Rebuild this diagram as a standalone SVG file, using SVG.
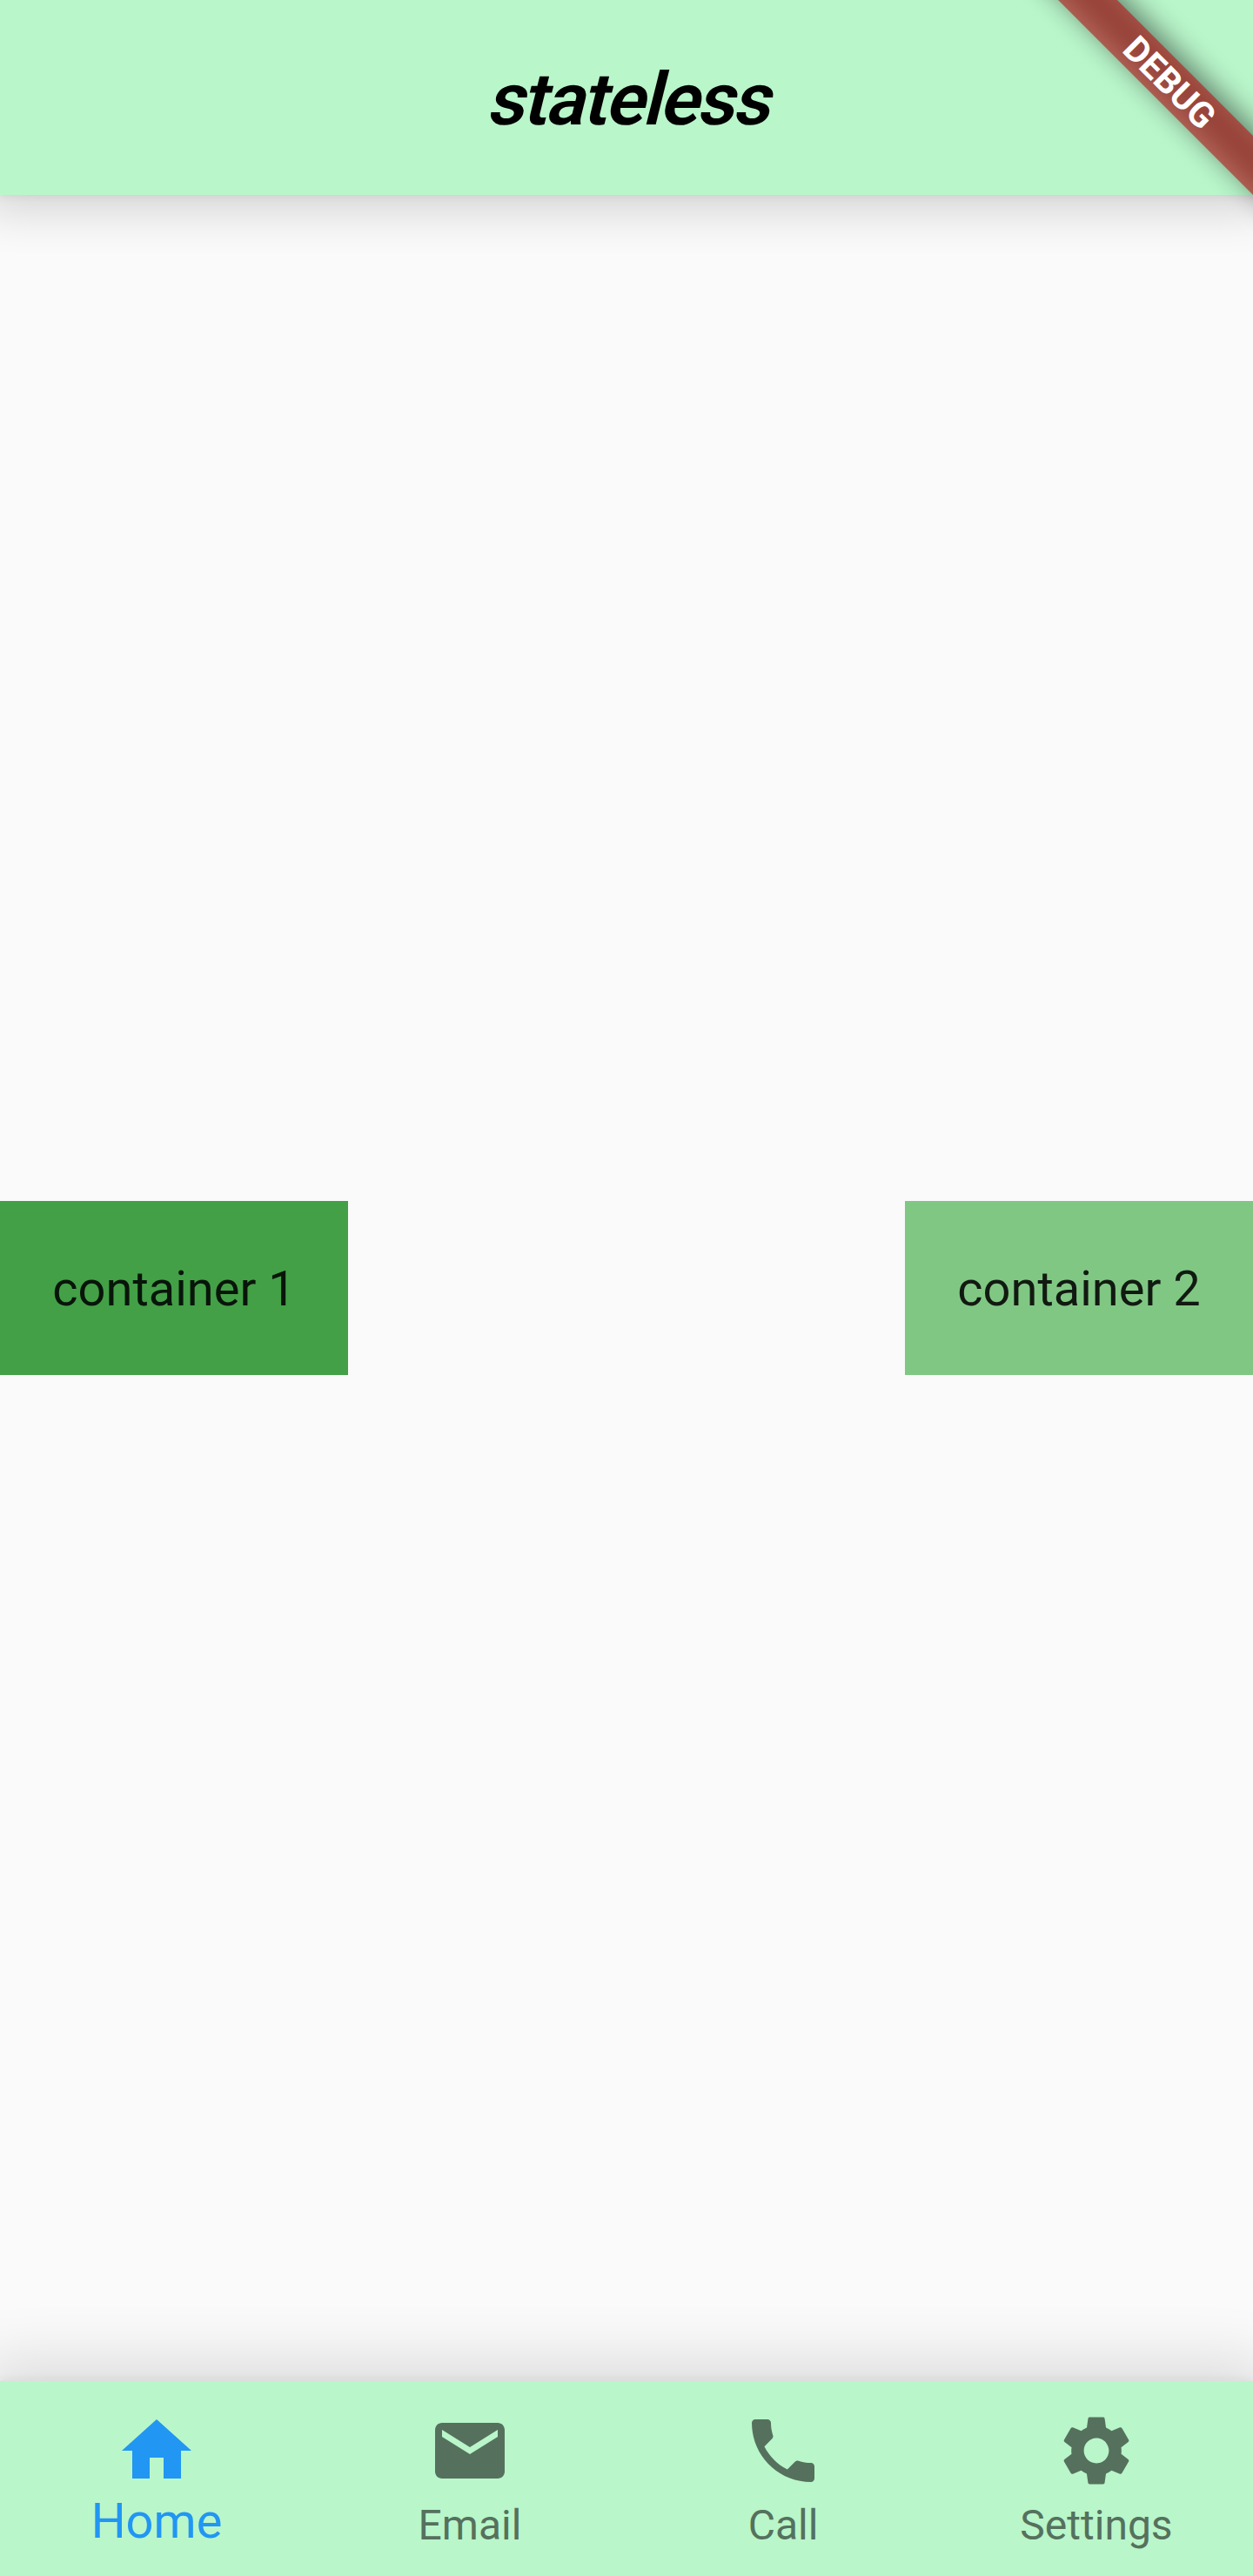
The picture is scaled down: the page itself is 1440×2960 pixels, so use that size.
<svg xmlns="http://www.w3.org/2000/svg" width="1440" height="2960" viewBox="0 0 1440 2960">
<defs>
<style>
text{font-family:Roboto,"Liberation Sans",sans-serif}
.bar{fill:#B9F6CA}
.ctr{font-size:56px;fill:#000;fill-opacity:.87;text-anchor:middle}
.lbl{font-size:48px;fill:#55715D;text-anchor:middle}
.ico{fill:#55715D}
</style>
<filter id="b4" x="-10%" y="-200%" width="120%" height="500%"><feGaussianBlur stdDeviation="4"/></filter>
<filter id="b28" x="-10%" y="-200%" width="120%" height="500%"><feGaussianBlur stdDeviation="28"/></filter>
<filter id="b34" x="-10%" y="-200%" width="120%" height="500%"><feGaussianBlur stdDeviation="34"/></filter>
<filter id="b16" x="-30%" y="-300%" width="160%" height="700%"><feGaussianBlur stdDeviation="16"/></filter>
</defs>
<rect id="background" width="1440" height="2960" fill="#FAFAFA"/>
<g id="appbar-shadow">
<rect y="0" width="1440" height="226" fill="#000" opacity=".05" filter="url(#b4)"/>
<rect x="-20" y="0" width="1480" height="240" fill="#000" opacity=".16" filter="url(#b28)"/>
</g>
<g id="bottomnav-shadow">
<rect y="2733" width="1440" height="227" fill="#000" opacity=".04" filter="url(#b4)"/>
<rect x="-20" y="2710" width="1480" height="250" fill="#000" opacity=".115" filter="url(#b34)"/>
</g>
<g id="appbar">
<rect class="bar" width="1440" height="224"/>
<text transform="translate(720 143) skewX(-14)" font-size="84" font-weight="600" letter-spacing="-2.2" text-anchor="middle" fill="#000">stateless</text>
</g>
<g id="container-1">
<rect y="1380" width="400" height="200" fill="#43A047"/>
<text class="ctr" x="200" y="1500">container 1</text>
</g>
<g id="container-2">
<rect x="1040" y="1380" width="400" height="200" fill="#81C784"/>
<text class="ctr" x="1240" y="1500">container 2</text>
</g>
<g id="bottomnav">
<rect class="bar" y="2736" width="1440" height="224"/>
<g id="nav-home">
<path transform="translate(132 2768) scale(4)" fill="#2196F3" d="M10 20v-6h4v6h5v-8h3L12 3 2 12h3v8z"/>
<text x="180" y="2916" font-size="56" fill="#2196F3" text-anchor="middle">Home</text>
</g>
<g id="nav-email">
<path class="ico" transform="translate(492 2768) scale(4)" d="M20 4H4c-1.1 0-1.99.9-1.99 2L2 18c0 1.1.9 2 2 2h16c1.1 0 2-.9 2-2V6c0-1.1-.9-2-2-2zm0 4l-8 5-8-5V6l8 5 8-5v2z"/>
<text class="lbl" x="540" y="2918">Email</text>
</g>
<g id="nav-call">
<path class="ico" transform="translate(852 2768) scale(4)" d="M6.62 10.79c1.44 2.83 3.76 5.14 6.59 6.59l2.2-2.2c.27-.27.67-.36 1.02-.24 1.12.37 2.33.57 3.57.57.55 0 1 .45 1 1V20c0 .55-.45 1-1 1-9.39 0-17-7.61-17-17 0-.55.45-1 1-1h3.5c.55 0 1 .45 1 1 0 1.25.2 2.45.57 3.57.11.35.03.74-.25 1.02l-2.2 2.2z"/>
<text class="lbl" x="900" y="2918">Call</text>
</g>
<g id="nav-settings">
<path class="ico" transform="translate(1212 2768) scale(4)" d="M19.14 12.94c.04-.3.06-.61.06-.94 0-.32-.02-.64-.07-.94l2.03-1.58c.18-.14.23-.41.12-.61l-1.92-3.32c-.12-.22-.37-.29-.59-.22l-2.39.96c-.5-.38-1.03-.7-1.62-.94l-.36-2.54c-.04-.24-.24-.41-.48-.41h-3.84c-.24 0-.43.17-.47.41l-.36 2.54c-.59.24-1.13.57-1.62.94l-2.39-.96c-.22-.08-.47 0-.59.22L2.74 8.87c-.12.21-.08.47.12.61l2.03 1.58c-.05.3-.09.63-.09.94s.02.64.07.94l-2.03 1.58c-.18.14-.23.41-.12.61l1.92 3.32c.12.22.37.29.59.22l2.39-.96c.5.38 1.03.7 1.62.94l.36 2.54c.05.24.24.41.48.41h3.84c.24 0 .44-.17.47-.41l.36-2.54c.59-.24 1.13-.56 1.62-.94l2.39.96c.22.08.47 0 .59-.22l1.92-3.32c.12-.22.07-.47-.12-.61l-2.01-1.58zM12 15.6c-1.98 0-3.6-1.62-3.6-3.6s1.62-3.6 3.6-3.6 3.6 1.62 3.6 3.6-1.62 3.6-3.6 3.6z"/>
<text class="lbl" x="1260" y="2918">Settings</text>
</g>
</g>
<g id="debug-banner" transform="translate(1344.5 94.5) rotate(45)">
<rect x="-240" y="-30" width="480" height="48" fill="#000" opacity=".5" filter="url(#b16)"/>
<rect x="-200" y="-24" width="400" height="48" fill="#B71C1C" fill-opacity=".627"/>
<text x="0" y="14.5" font-size="40.8" font-weight="700" fill="#fff" text-anchor="middle">DEBUG</text>
</g>
<g id="connectors"/>
</svg>
